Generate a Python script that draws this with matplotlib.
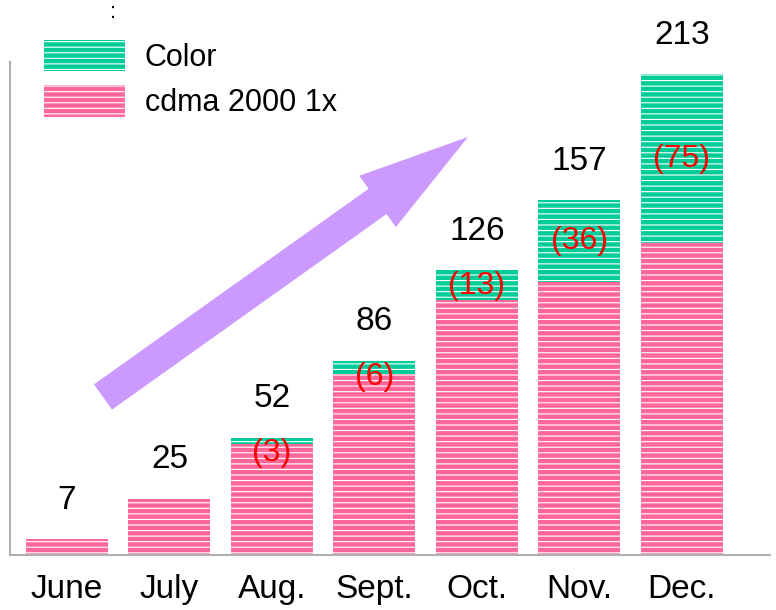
import matplotlib.pyplot as plt
import matplotlib.patches as mpatches
import numpy as np

plt.rcParams['font.family'] = ['Liberation Sans', 'DejaVu Sans']
plt.rcParams['hatch.linewidth'] = 0.8

# --- data ---
months = ['June', 'July', 'Aug.', 'Sept.', 'Oct.', 'Nov.', 'Dec.']
totals = [7, 25, 52, 86, 126, 157, 213]
color_units = [0, 0, 3, 6, 13, 36, 75]
cdma_units = [t - c for t, c in zip(totals, color_units)]

PINK = '#ff6699'
TEAL = '#00cc99'

fig = plt.figure(figsize=(7.76, 6.10), dpi=100)
ax = fig.add_axes([10 / 776, 1 - 555 / 610, 760 / 776, 493 / 610])

x = np.arange(len(months))
ax.bar(x, cdma_units, width=0.8, color=PINK, edgecolor='white', linewidth=0, hatch='---')
ax.bar(x, color_units, bottom=cdma_units, width=0.8, color=TEAL, edgecolor='white',
       linewidth=0, hatch='---')

# totals above bars
for xi, t in zip(x, totals):
    ax.annotate(str(t), (xi, t), xytext=(0, 28), textcoords='offset points',
                ha='center', va='center', fontsize=24, clip_on=False)

# color counts in red
for xi, t, c in zip(x, totals, color_units):
    if c > 0:
        ax.text(xi, t - max(c / 2, 7), f'({c})', ha='center', va='center',
                fontsize=23, color='red')

ax.set_xlim(-0.556, 6.86)
ax.set_ylim(0, 218.3)
ax.set_xticks(x)
ax.set_xticklabels(months, fontsize=24)
ax.tick_params(axis='x', length=0, pad=14)
ax.set_yticks([])
for s in ['top', 'right']:
    ax.spines[s].set_visible(False)
for s in ['left', 'bottom']:
    ax.spines[s].set_color('#b0b0b0')
    ax.spines[s].set_linewidth(1.5)

# legend
handles = [mpatches.Patch(facecolor=TEAL, edgecolor='white', linewidth=0, hatch='---', label='Color'),
           mpatches.Patch(facecolor=PINK, edgecolor='white', linewidth=0, hatch='---', label='cdma 2000 1x')]
fig.legend(handles=handles, loc='upper left', bbox_to_anchor=(44 / 776, 1 - 40 / 610),
           frameon=False, fontsize=22, handlelength=2.65, handleheight=1.2,
           labelspacing=0.4, handletextpad=0.65, borderpad=0, borderaxespad=0)

fig.text(113 / 776, 1 - 12 / 610, ':', ha='center', va='center', fontsize=16)

# trend arrow
arrow = mpatches.FancyArrow(1.03, 2.13, 3.65, 2.60, width=0.31, head_width=0.63,
                            head_length=1.11, length_includes_head=True,
                            color='#cc99ff', linewidth=0, transform=fig.dpi_scale_trans)
fig.add_artist(arrow)

fig.savefig('out.png', dpi=100)
